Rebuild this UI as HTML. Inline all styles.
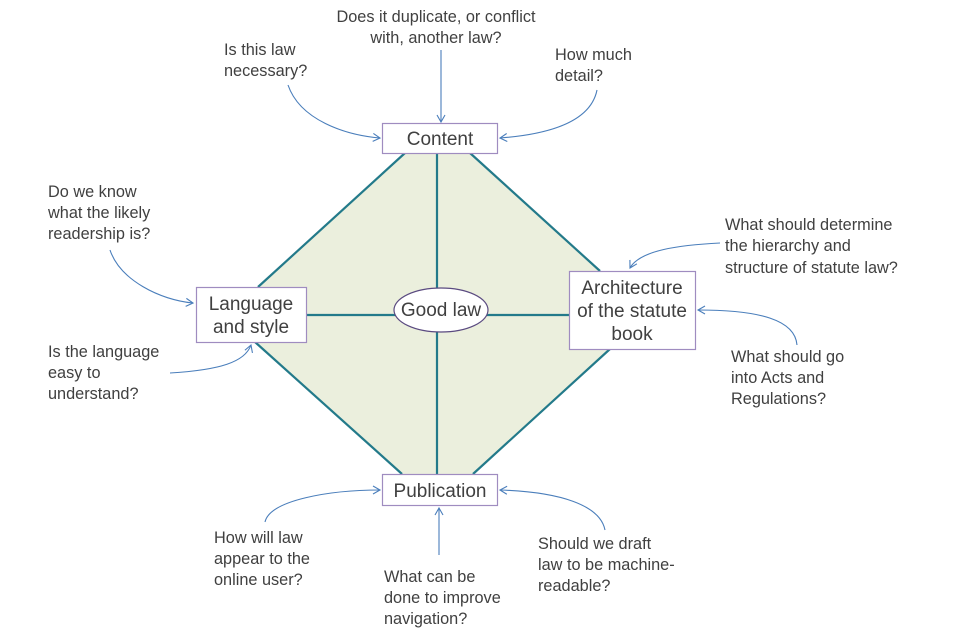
<!DOCTYPE html>
<html><head><meta charset="utf-8"><style>
body{margin:0;background:#fff}
svg{display:block}
.t{font-family:"Liberation Sans",sans-serif;font-size:16.3px;fill:#404040}
.b{font-family:"Liberation Sans",sans-serif;font-size:19px;fill:#404040}
.a{fill:none;stroke:#4a7ebb;stroke-width:1.1}
</style></head><body>
<svg width="960" height="640" viewBox="0 0 960 640">
<defs><marker id="m" markerWidth="10" markerHeight="10" refX="8" refY="5" orient="auto" markerUnits="userSpaceOnUse"><path d="M1,1 L8,5 L1,9" fill="none" stroke="#4a7ebb" stroke-width="1.1"/></marker></defs>
<polygon points="405,153 470,153 600,271 610,349 473,474 402,474 255,342 258,287" fill="#ebefdd"/>
<g stroke="#237a8a" stroke-width="2.2" fill="none">
<line x1="405" y1="153" x2="258" y2="287"/>
<line x1="470" y1="153" x2="600" y2="271"/>
<line x1="610" y1="349" x2="473" y2="474"/>
<line x1="255" y1="342" x2="402" y2="474"/>
<line x1="437" y1="153" x2="437" y2="474"/>
<line x1="306" y1="315" x2="569" y2="315"/>
</g>
<g fill="#fff" stroke="#9f8cc0" stroke-width="1.2">
<rect x="382.5" y="123.5" width="115" height="30"/>
<rect x="196.5" y="287.5" width="110" height="55"/>
<rect x="569.5" y="271.5" width="126" height="78"/>
<rect x="382.5" y="474.5" width="115" height="31"/>
</g>
<ellipse cx="441" cy="310" rx="47" ry="22" fill="#fff" stroke="#5a4a80" stroke-width="1.2"/>
<g class="b" text-anchor="middle">
<text x="440" y="145">Content</text>
<text x="251" y="310">Language</text><text x="251" y="333">and style</text>
<text x="632" y="294">Architecture</text><text x="632" y="317">of the statute</text><text x="632" y="340">book</text>
<text x="440" y="497">Publication</text>
<text x="441" y="316">Good law</text>
</g>
<g class="t">
<text x="436" y="22" text-anchor="middle">Does it duplicate, or conflict</text>
<text x="436" y="43" text-anchor="middle">with, another law?</text>
<text x="224" y="55">Is this law</text><text x="224" y="76">necessary?</text>
<text x="555" y="60">How much</text><text x="555" y="81">detail?</text>
<text x="48" y="197">Do we know</text><text x="48" y="218">what the likely</text><text x="48" y="239">readership is?</text>
<text x="48" y="357">Is the language</text><text x="48" y="378">easy to</text><text x="48" y="399">understand?</text>
<text x="725" y="230">What should determine</text><text x="725" y="251">the hierarchy and</text><text x="725" y="273">structure of statute law?</text>
<text x="731" y="362">What should go</text><text x="731" y="383">into Acts and</text><text x="731" y="404">Regulations?</text>
<text x="214" y="543">How will law</text><text x="214" y="564">appear to the</text><text x="214" y="585">online user?</text>
<text x="384" y="582">What can be</text><text x="384" y="603">done to improve</text><text x="384" y="624">navigation?</text>
<text x="538" y="549">Should we draft</text><text x="538" y="570">law to be machine-</text><text x="538" y="591">readable?</text>
</g>
<g class="a" marker-end="url(#m)">
<path d="M288,85 C300,120 345,135 380,138"/>
<path d="M441,50 L441,122"/>
<path d="M597,90 C590,125 540,135 500,138"/>
<path d="M110,250 C120,280 160,300 193,303"/>
<path d="M170,373 C220,370 245,362 251,345"/>
<path d="M720,243 C680,245 640,250 630,268"/>
<path d="M797,345 C795,320 760,310 698,310"/>
<path d="M265,522 C270,500 330,490 380,490"/>
<path d="M439,555 L439,508"/>
<path d="M605,530 C600,505 560,492 500,490"/>
</g>
</svg>
</body></html>
